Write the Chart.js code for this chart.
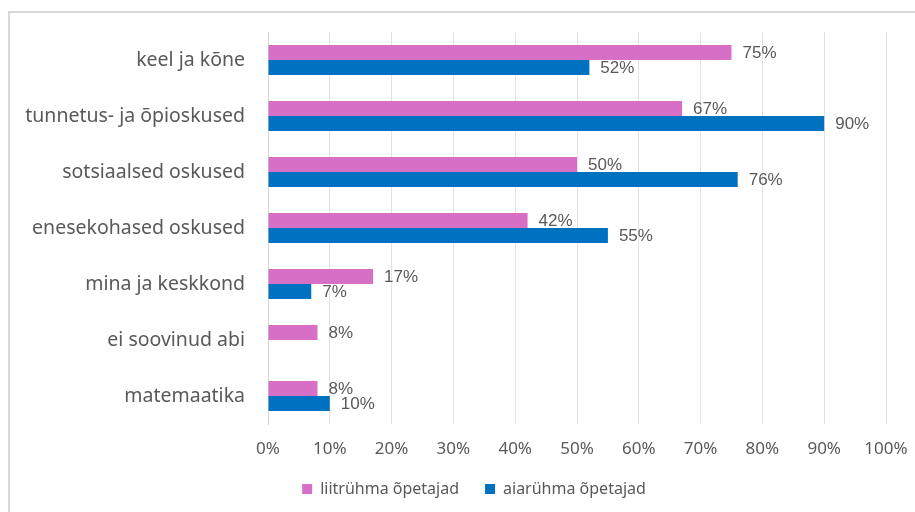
<!DOCTYPE html>
<html>
<head>
<meta charset="utf-8">
<script src="https://cdn.jsdelivr.net/npm/chart.js@4"></script>
<style>
    body { margin: 0; background: #ffffff; }
    #wrap { width: 915px; height: 512px; }
</style>
</head>
<body>
<div id="wrap"><canvas id="graafik"></canvas></div>
<script>
const kategooriad = [
    "keel ja kõne",
    "tunnetus- ja õpioskused",
    "sotsiaalsed oskused",
    "enesekohased oskused",
    "mina ja keskkond",
    "ei soovinud abi",
    "matemaatika",
];
const liitryhm = [75, 67, 50, 42, 17, 8, 8];
const aiaryhm = [52, 90, 76, 55, 7, null, 10];

const hall = "#595959";

// vaartused tulpade otsa
const siltidePlugin = {
    id: "sildid",
    afterDatasetsDraw(chart) {
        const ctx = chart.ctx;
        ctx.save();
        ctx.font = "17px 'Liberation Sans', Arial, sans-serif";
        ctx.fillStyle = hall;
        ctx.textAlign = "left";
        ctx.textBaseline = "middle";
        chart.data.datasets.forEach((ds, i) => {
            const meta = chart.getDatasetMeta(i);
            meta.data.forEach((bar, j) => {
                const v = ds.data[j];
                if (v === null || v === undefined) return;
                ctx.fillText(v + "%", bar.x + 11, bar.y + 1);
            });
        });
        ctx.restore();
    },
};

// hall raam ymber + legend veidi paremale
const raamPlugin = {
    id: "raam",
    afterLayout(chart) {
        chart.legend.left += 31;
        chart.legend.right += 31;
    },
    beforeDraw(chart) {
        const ctx = chart.ctx;
        ctx.save();
        ctx.strokeStyle = "#d9d9d9";
        ctx.lineWidth = 2;
        ctx.strokeRect(9, 12, 1000, 1000);
        ctx.restore();
    },
};

const dataGraafik = {
    labels: kategooriad,
    datasets: [
        {
            label: "liitrühma õpetajad",
            backgroundColor: "#d76fc6",
            data: liitryhm,
        },
        {
            label: "aiarühma õpetajad",
            backgroundColor: "#0070c0",
            data: aiaryhm,
        },
    ],
};

const configGraafik = {
    type: "bar",
    data: dataGraafik,
    options: {
        indexAxis: "y",
        responsive: true,
        maintainAspectRatio: false,
        animation: false,
        categoryPercentage: 0.536,
        barPercentage: 1,
        layout: {
            padding: { left: 0, right: 29, top: 32, bottom: 5 },
        },
        plugins: {
            legend: {
                position: "bottom",
                labels: {
                    boxWidth: 10,
                    boxHeight: 10,
                    padding: 26,
                    color: hall,
                    font: { size: 16, family: "'Noto Sans', sans-serif" },
                },
            },
            tooltip: { enabled: false },
        },
        scales: {
            x: {
                min: 0,
                max: 100,
                ticks: {
                    stepSize: 10,
                    padding: 15,
                    color: hall,
                    font: { size: 17, family: "'Noto Sans', sans-serif" },
                    callback: (v) => v + "%",
                },
                grid: {
                    color: "#e3e3e3",
                    drawTicks: false,
                },
                border: { display: false },
                afterFit: (scale) => {
                    scale.height = 31;
                    scale.paddingLeft = 0;
                    scale.paddingRight = 0;
                },
            },
            y: {
                ticks: {
                    padding: 23,
                    color: hall,
                    font: { size: 19.5, family: "'Noto Sans', sans-serif" },
                },
                grid: { display: false, drawTicks: false },
                border: { display: true, color: "#d4d4d4", width: 1 },
                afterFit: (scale) => {
                    scale.width = 268;
                    scale.paddingTop = 0;
                    scale.paddingBottom = 0;
                },
            },
        },
    },
    plugins: [siltidePlugin, raamPlugin],
};

const graafik = new Chart(document.getElementById("graafik"), configGraafik);
</script>
</body>
</html>
